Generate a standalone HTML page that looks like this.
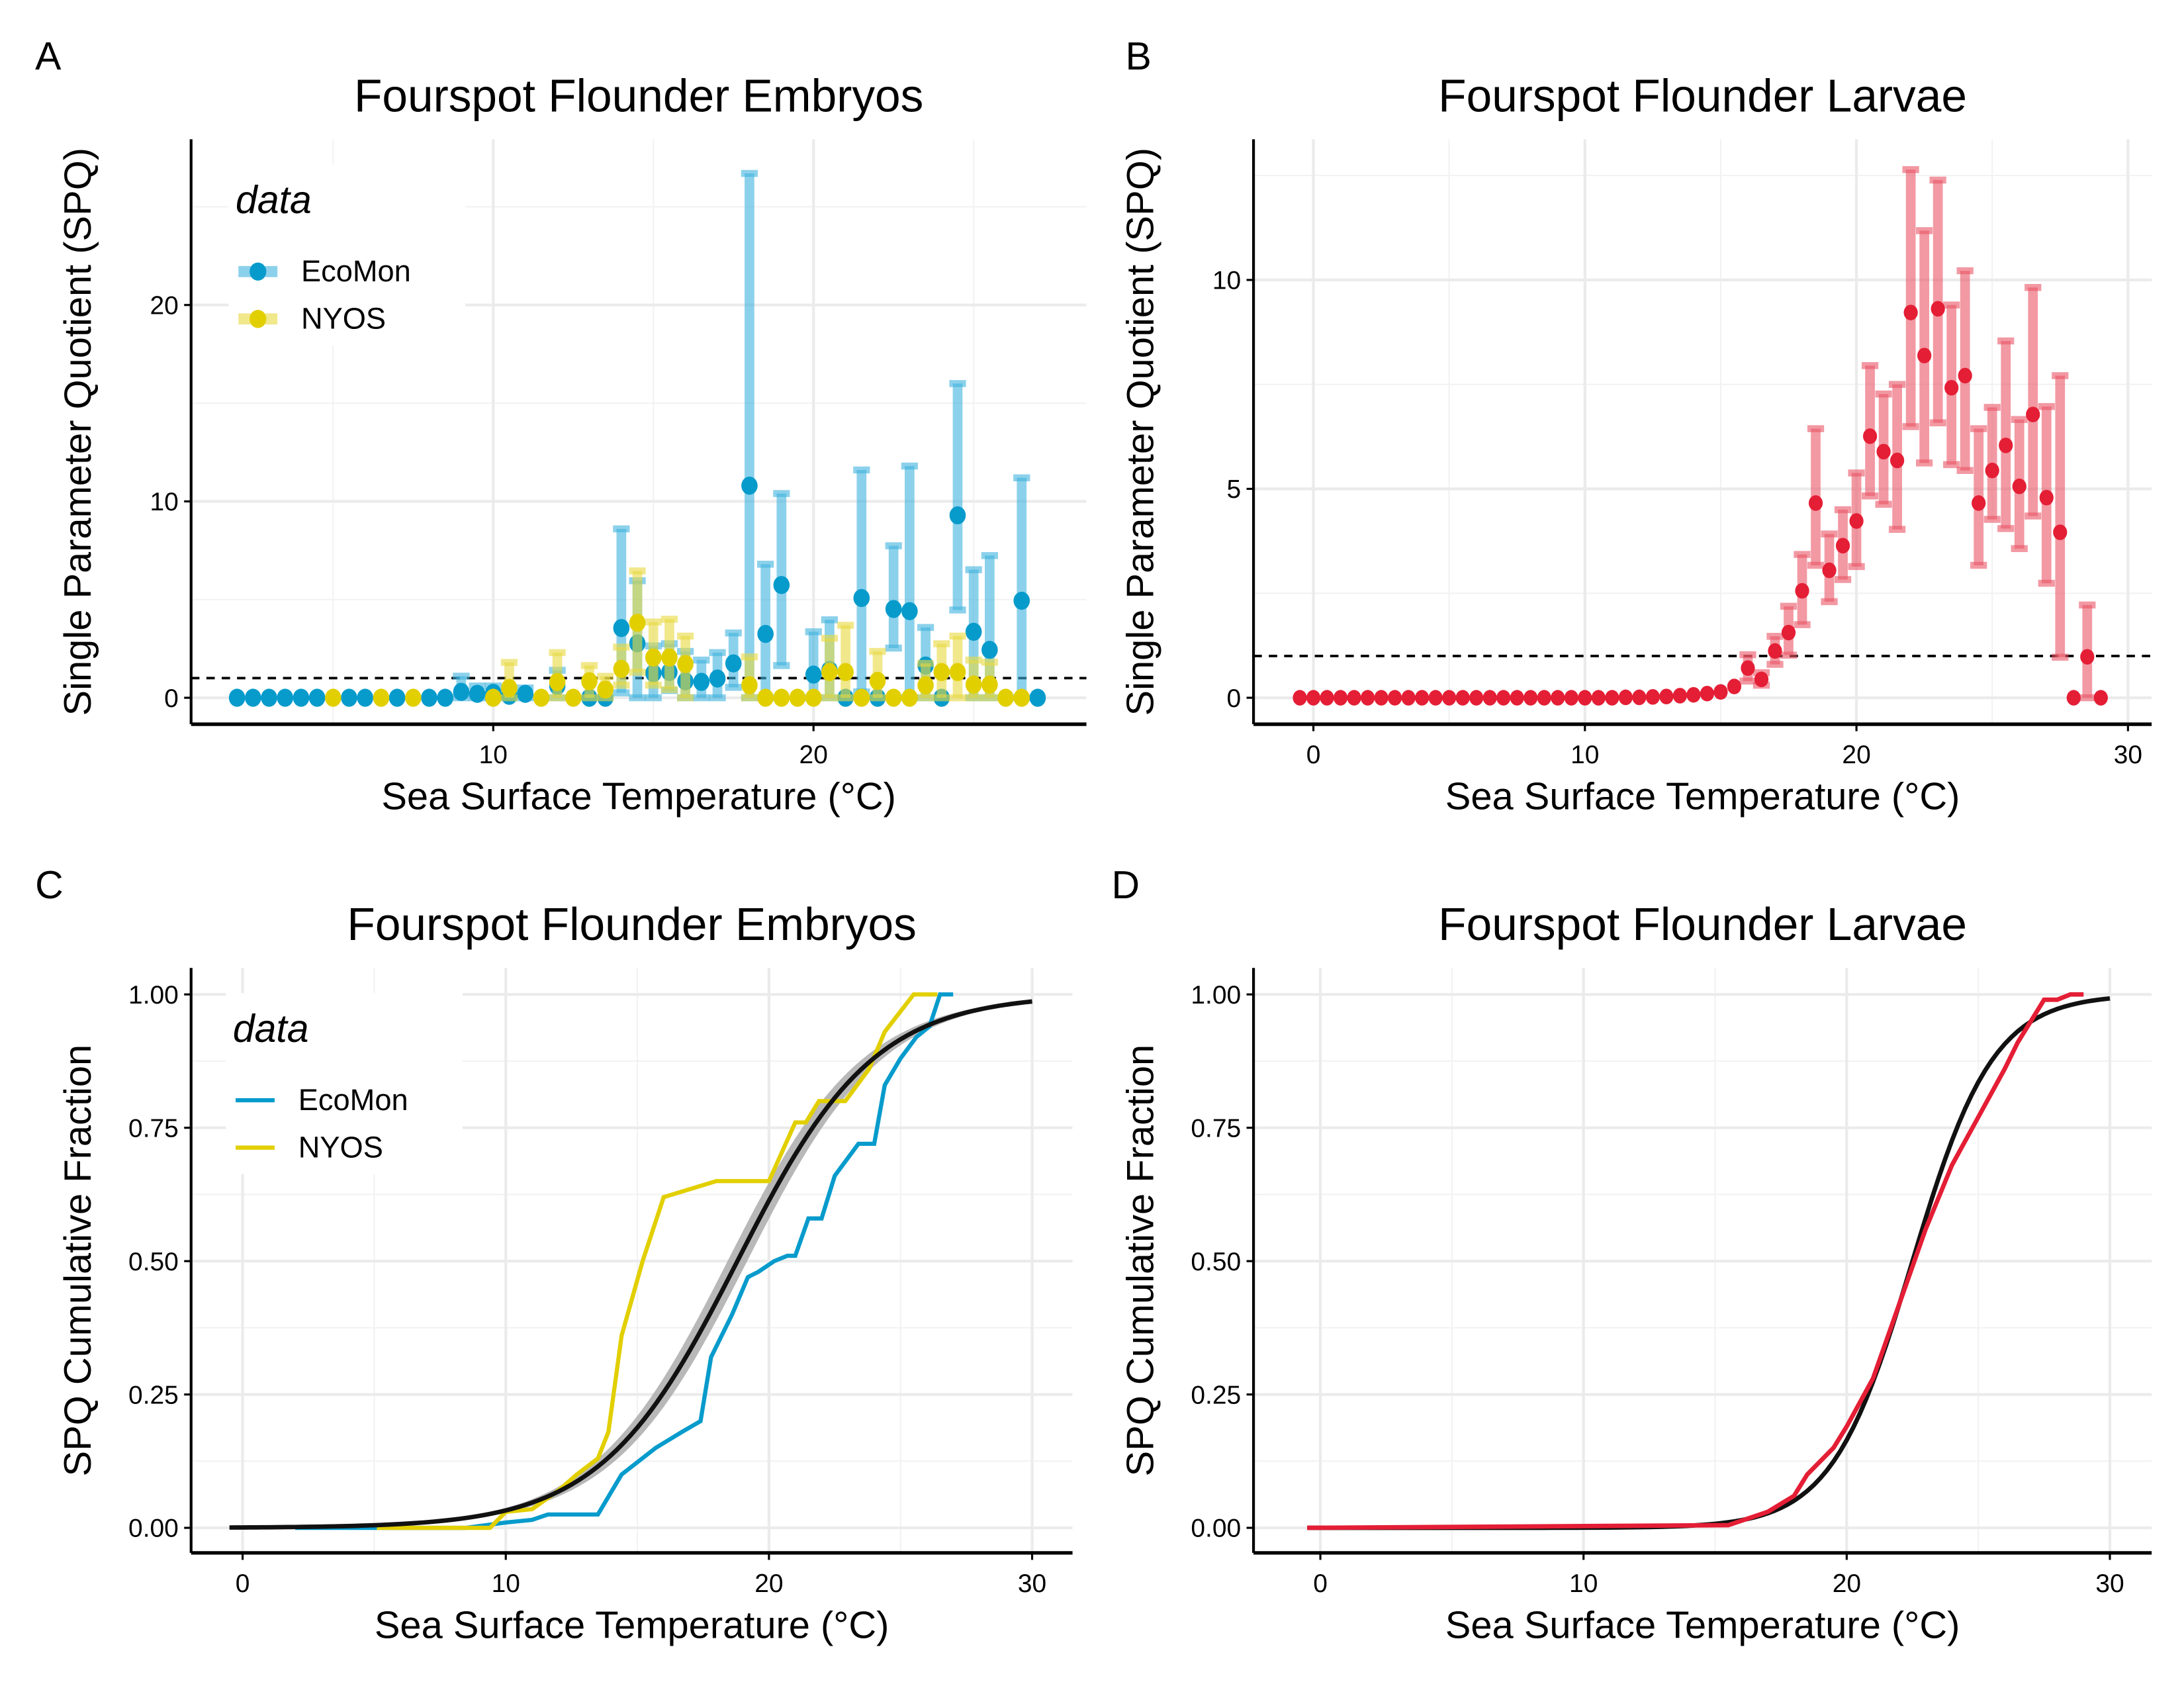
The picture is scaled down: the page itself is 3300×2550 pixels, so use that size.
<!DOCTYPE html>
<html><head><meta charset="utf-8"><style>
html,body{margin:0;padding:0;background:#fff}
svg{display:block}
text{font-family:"Liberation Sans",Arial,sans-serif;fill:#000}
</style></head><body>
<svg id="fig" xmlns="http://www.w3.org/2000/svg" width="3300" height="2550" viewBox="0 0 1568 1212"></svg>
<script>
// ---------- Panel A data (Embryos SPQ) ----------
const aTemps = [2,2.5,3,3.5,4,4.5,5,5.5,6,6.5,7,7.5,8,8.5,9,9.5,10,10.5,11,11.5,12,12.5,13,13.5,14,14.5,15,15.5,16,16.5,17,17.5,18,18.5,19,19.5,20,20.5,21,21.5,22,22.5,23,23.5,24,24.5,25,25.5,26,26.5,27];
const ecoVal = [0,0,0,0,0,0,null,0,0,null,0,null,0,0,0.3,0.2,0.25,0.1,0.2,null,0.6,null,0,0,3.55,2.77,1.25,1.31,0.84,0.81,0.98,1.75,10.8,3.25,5.74,null,1.18,1.42,0,5.08,0,4.52,4.41,1.64,0,9.29,3.36,2.44,null,4.94,0];
const ecoHi  = [0,0,0,0,0,0,null,0,0,null,0,null,0,0,1.1,0.6,0.6,0.3,0.5,null,1.4,null,0,0,8.6,5.96,2.64,2.75,2.36,1.92,2.3,3.3,26.7,6.8,10.4,null,3.36,3.97,0,11.6,0,7.74,11.8,3.58,0,16.0,6.52,7.24,null,11.2,0];
const ecoLo  = [0,0,0,0,0,0,null,0,0,null,0,null,0,0,0,0,0,0,0,null,0,null,0,0,0.25,0,0,0.37,0,0,0,0.53,0,0,1.64,null,0,0,0,0.3,0,2.53,0,0,0,4.47,0,0,null,0,0];
const nyVal  = [null,null,null,null,null,null,0,null,null,0,null,0,null,null,null,null,0,0.5,null,0,0.8,0,0.84,0.42,1.47,3.82,2.05,2.05,1.72,null,null,null,0.64,0,0,0,0,1.31,1.31,0,0.86,0,0,0.64,1.31,1.31,0.67,0.67,0,0,null];
const nyHi   = [null,null,null,null,null,null,0,null,null,0,null,0,null,null,null,null,0,1.8,null,0,2.3,0,1.64,1.09,2.58,6.46,3.86,4.0,3.14,null,null,null,2.08,0,0,0,0,3.03,3.69,0,2.36,0,0,1.75,2.75,3.14,1.92,1.81,0,0,null];
const nyLo   = [null,null,null,null,null,null,0,null,null,0,null,0,null,null,null,null,0,0,null,0,0,0,0,0,0.64,1.3,0.64,0.42,0,null,null,null,0,0,0,0,0,0,0,0,0,0,0,0,0,0,0,0,0,0,null];
// ---------- Panel B data (Larvae SPQ) ----------
const bTemps = [-0.5,0,0.5,1,1.5,2,2.5,3,3.5,4,4.5,5,5.5,6,6.5,7,7.5,8,8.5,9,9.5,10,10.5,11,11.5,12,12.5,13,13.5,14,14.5,15,15.5,16,16.5,17,17.5,18,18.5,19,19.5,20,20.5,21,21.5,22,22.5,23,23.5,24,24.5,25,25.5,26,26.5,27,27.5,28,28.5,29];
const bVal = [0,0,0,0,0,0,0,0,0,0,0,0,0,0,0,0,0,0,0,0,0,0,0,0,0.01,0.01,0.02,0.03,0.05,0.07,0.1,0.14,0.27,0.71,0.44,1.12,1.56,2.56,4.66,3.05,3.64,4.23,6.26,5.89,5.68,9.22,8.19,9.31,7.42,7.71,4.66,5.44,6.04,5.06,6.78,4.79,3.96,0,0.98,0];
const bHi  = [null,null,null,null,null,null,null,null,null,null,null,null,null,null,null,null,null,null,null,null,null,null,null,null,null,null,null,null,null,null,null,null,null,1.03,0.6,1.47,2.19,3.43,6.44,3.92,4.5,5.38,7.95,7.27,7.5,12.64,11.18,12.39,9.4,10.22,6.44,6.95,8.54,6.66,9.82,6.97,7.71,null,2.22,null];
const bLo  = [null,null,null,null,null,null,null,null,null,null,null,null,null,null,null,null,null,null,null,null,null,null,null,null,null,null,null,null,null,null,null,null,null,0.4,0.3,0.8,1.02,1.75,3.17,2.3,2.83,3.14,4.83,4.63,4.03,6.49,5.62,6.58,5.58,5.44,3.17,4.27,4.05,3.57,4.35,2.74,0.97,null,0,null];
// ---------- Panel C data (Embryos cumulative) ----------
const cEcoX = [2,8.5,10,11,11.6,13.5,14.4,15.7,16.7,17.4,17.8,18.6,19.2,19.6,20.2,20.7,21,21.5,22,22.5,23.1,23.4,24,24.4,25,25.6,26.1,26.5,27];
const cEcoY = [0,0,0.01,0.015,0.025,0.025,0.1,0.15,0.18,0.2,0.32,0.4,0.47,0.48,0.5,0.51,0.51,0.58,0.58,0.66,0.7,0.72,0.72,0.83,0.88,0.92,0.94,1.0,1.0];
const cNyX = [5.1,8.5,9.4,10,11,12,12.7,13.5,13.9,14.4,15.2,16,18,20,21,21.4,21.9,22.9,23.8,24.4,25.5,26.4];
const cNyY = [0,0,0,0.03,0.035,0.07,0.1,0.13,0.18,0.36,0.5,0.62,0.65,0.65,0.76,0.76,0.8,0.8,0.86,0.93,1.0,1.0];
const cFitMid = [18.8];
const cFitRate = [0.385];
// ---------- Panel D data (Larvae cumulative) ----------
const dRedX = [-0.5,15.5,17,18,18.5,19.5,20,21,22,23,24,25,26,26.5,27,27.5,28,28.5,29];
const dRedY = [0,0.005,0.03,0.06,0.1,0.15,0.19,0.28,0.42,0.56,0.68,0.77,0.86,0.91,0.95,0.99,0.99,1.0,1.0];
const dFitMid = [22.5];
const dFitRate = [0.65];

const NS="http://www.w3.org/2000/svg";
const fig=document.getElementById('fig');
function mk(tag,attrs,parent){const e=document.createElementNS(NS,tag);for(const k in attrs)e.setAttribute(k,attrs[k]);(parent||fig).appendChild(e);return e;}
function txt(s,attrs,parent){const e=mk('text',attrs,parent);e.textContent=s;return e;}
function lin(d0,d1,r0,r1){return v=>r0+(v-d0)*(r1-r0)/(d1-d0);}

function panel(o){
  const g=mk('g',{});
  
  
  o.xMinor.forEach(v=>{const l=mk('line',{x1:o.x(v),x2:o.x(v),y1:o.top,y2:o.bottom,stroke:'#f2f2f2','stroke-width':1},g);});
  o.yMinor.forEach(v=>{const l=mk('line',{x1:o.left,x2:o.right,y1:o.y(v),y2:o.y(v),stroke:'#f2f2f2','stroke-width':1},g);});
  o.xTicks.forEach(v=>{const l=mk('line',{x1:o.x(v),x2:o.x(v),y1:o.top,y2:o.bottom,stroke:'#ebebeb','stroke-width':2},g);});
  o.yTicks.forEach(v=>{const l=mk('line',{x1:o.left,x2:o.right,y1:o.y(v),y2:o.y(v),stroke:'#ebebeb','stroke-width':2},g);});
  const ax=mk('line',{x1:o.left,x2:o.right,y1:o.bottom,y2:o.bottom,stroke:'#000','stroke-width':2.5},g);
  
  const ay=mk('line',{x1:o.left,x2:o.left,y1:o.top,y2:o.bottom,stroke:'#000','stroke-width':2},g);
  
  o.xTicks.forEach(v=>{
    const t=mk('line',{x1:o.x(v),x2:o.x(v),y1:o.bottom,y2:o.bottom+5,stroke:'#000','stroke-width':1.5},g);
    
    const l=txt(String(v),{x:o.x(v),y:o.bottom+28,'text-anchor':'middle','font-size':18.5},g);
    
  });
  o.yTicks.forEach((v,i)=>{
    const t=mk('line',{x1:o.left-5,x2:o.left,y1:o.y(v),y2:o.y(v),stroke:'#000','stroke-width':1.5},g);
    
    const l=txt(o.yLabels[i],{x:o.left-9,y:o.y(v)+6.5,'text-anchor':'end','font-size':18.5},g);
    
  });
  const tt=txt(o.title,{x:(o.left+o.right)/2,y:o.top-20,'text-anchor':'middle','font-size':33},g);
  
  const xt=txt('Sea Surface Temperature (°C)',{x:(o.left+o.right)/2,y:o.bottom+61,'text-anchor':'middle','font-size':27.5},g);
  
  const cy=(o.top+o.bottom)/2+o.ytOff;
  const yt=txt(o.ytitle,{x:o.left-72,y:cy,'text-anchor':'middle','font-size':27.5,transform:`rotate(-90 ${o.left-72} ${cy})`},g);
  
  const pl=txt(o.letter,{x:o.lx,y:o.top-50,'font-size':28},g);
  
  return g;
}

function errPoints(g,o,xs,vals,his,los,barCol,ptCol,r,name){
  xs.forEach((t,i)=>{
    if(vals[i]===null)return;
    if(his[i]!==null && his[i]>vals[i]+0.05 || (los[i]!==null && los[i]<vals[i]-0.05)){
      const hi=his[i]===null?vals[i]:his[i], lo=los[i]===null?vals[i]:los[i];
      const b=mk('line',{x1:o.x(t),x2:o.x(t),y1:o.y(hi),y2:o.y(lo),stroke:barCol,'stroke-width':7,'stroke-opacity':0.6},g);
      
      [hi,lo].forEach(v=>{
        const c=mk('rect',{x:o.x(t)-6,y:o.y(v)-2.5,width:12,height:5,fill:barCol,'fill-opacity':0.6},g);
        
      });
    }
  });
  xs.forEach((t,i)=>{
    if(vals[i]===null)return;
    const p=mk('ellipse',{cx:o.x(t),cy:o.y(vals[i]),rx:r*0.9,ry:r,fill:ptCol},g);
    
  });
}
function pathFrom(o,xs,ys){return xs.map((v,i)=>(i?'L':'M')+o.x(v).toFixed(2)+','+o.y(ys[i]).toFixed(2)).join(' ');}
function dashed(g,o,v){const d=mk('line',{x1:o.left,x2:o.right,y1:o.y(v),y2:o.y(v),stroke:'#000','stroke-width':1.8,'stroke-dasharray':'6 5'},g);}

const A={name:'panel-a-embryos-spq',letter:'A',lx:25,left:137,right:780,top:100,bottom:520,ytOff:0,
  x:lin(10,20,354,584),y:lin(0,10,501,360),xTicks:[10,20],xMinor:[5,15,25],yTicks:[0,10,20],yLabels:['0','10','20'],yMinor:[5,15,25],
  title:'Fourspot Flounder Embryos',ytitle:'Single Parameter Quotient (SPQ)'};
const gA=panel(A);
dashed(gA,A,1);
errPoints(gA,A,aTemps,ecoVal,ecoHi,ecoLo,'#3fb3dd','#079bcc',6.5,'ecomon');
errPoints(gA,A,aTemps,nyVal,nyHi,nyLo,'#e8d940','#e2cf00',6.5,'nyos');

const B={name:'panel-b-larvae-spq',letter:'B',lx:808,left:900,right:1545,top:100,bottom:520,ytOff:0,
  x:lin(0,10,943,1138),y:lin(0,5,501,351),xTicks:[0,10,20,30],xMinor:[5,15,25],yTicks:[0,5,10],yLabels:['0','5','10'],yMinor:[2.5,7.5,12.5],
  title:'Fourspot Flounder Larvae',ytitle:'Single Parameter Quotient (SPQ)'};
const gB=panel(B);
dashed(gB,B,1);
errPoints(gB,B,bTemps,bVal,bHi,bLo,'#ea5565','#e41e35',5.6,'larvae');

const C={name:'panel-c-embryos-cumulative',letter:'C',lx:25,left:137,right:770,top:695,bottom:1115,ytOff:0,
  x:lin(0,10,174,363),y:lin(0,1,1097,714),xTicks:[0,10,20,30],xMinor:[5,15,25],yTicks:[0,0.25,0.5,0.75,1],yLabels:['0.00','0.25','0.50','0.75','1.00'],yMinor:[0.125,0.375,0.625,0.875],
  title:'Fourspot Flounder Embryos',ytitle:'SPQ Cumulative Fraction'};
const gC=panel(C);
function logistic(t,m,k){return 1/(1+Math.exp(-k*(t-m)));}
(function(){
  const xs=[],ys=[],up=[],dn=[];
  for(let t=-0.5;t<=30.001;t+=0.25){const v=logistic(t,cFitMid[0],cFitRate[0]);xs.push(t);ys.push(v);up.push(Math.min(1,v+0.06*v*(1-v)*4*0.6));dn.push(Math.max(0,v-0.06*v*(1-v)*4*0.6));}
  const band=mk('path',{d:pathFrom(C,xs,up)+' '+xs.slice().reverse().map((v,i)=>'L'+C.x(v).toFixed(2)+','+C.y(dn[dn.length-1-i]).toFixed(2)).join(' ')+' Z',fill:'#a6a6a6','fill-opacity':0.8},gC);
  
  const eco=mk('path',{d:pathFrom(C,cEcoX,cEcoY),fill:'none',stroke:'#079bcc','stroke-width':3},gC);
  
  const ny=mk('path',{d:pathFrom(C,cNyX,cNyY),fill:'none',stroke:'#e2cf00','stroke-width':3},gC);
  
  const fit=mk('path',{d:pathFrom(C,xs,ys),fill:'none',stroke:'#111','stroke-width':3.2},gC);
  
})();

const D={name:'panel-d-larvae-cumulative',letter:'D',lx:798,left:900,right:1545,top:695,bottom:1115,ytOff:0,
  x:lin(0,10,948,1137),y:lin(0,1,1097,714),xTicks:[0,10,20,30],xMinor:[5,15,25],yTicks:[0,0.25,0.5,0.75,1],yLabels:['0.00','0.25','0.50','0.75','1.00'],yMinor:[0.125,0.375,0.625,0.875],
  title:'Fourspot Flounder Larvae',ytitle:'SPQ Cumulative Fraction'};
const gD=panel(D);
(function(){
  const xs=[],ys=[];
  for(let t=-0.5;t<=30.001;t+=0.25){xs.push(t);ys.push(logistic(t,dFitMid[0],dFitRate[0]));}
  const fit=mk('path',{d:pathFrom(D,xs,ys),fill:'none',stroke:'#111','stroke-width':3.2},gD);
  
  const red=mk('path',{d:pathFrom(D,dRedX,dRedY),fill:'none',stroke:'#e41e35','stroke-width':3.2},gD);
  
})();

function legend(x,y,pts){
  const g=mk('g',{});
  
  
  const bg=mk('rect',{x:x-5,y:y-35,width:170,height:130,fill:'#fff'},g);
  
  const t=txt('data',{x:x,y:y,'font-size':28,'font-style':'italic'},g);
  
  [['EcoMon','#3fb3dd','#079bcc'],['NYOS','#e8d940','#e2cf00']].forEach((e,i)=>{
    const yy=y+42+i*34;
    if(pts){
      const k=mk('rect',{x:x+2,y:yy-4,width:28,height:8,fill:e[1],'fill-opacity':0.6},g);
      
      const p=mk('ellipse',{cx:x+16,cy:yy,rx:6,ry:6.5,fill:e[2]},g);
      
    }else{
      const k=mk('line',{x1:x+2,x2:x+30,y1:yy,y2:yy,stroke:e[2],'stroke-width':3},g);
      
    }
    const l=txt(e[0],{x:x+47,y:yy+7,'font-size':21.5},g);
    
  });
}
legend(169,153,true);
legend(167,748,false);
</script>
</body></html>
